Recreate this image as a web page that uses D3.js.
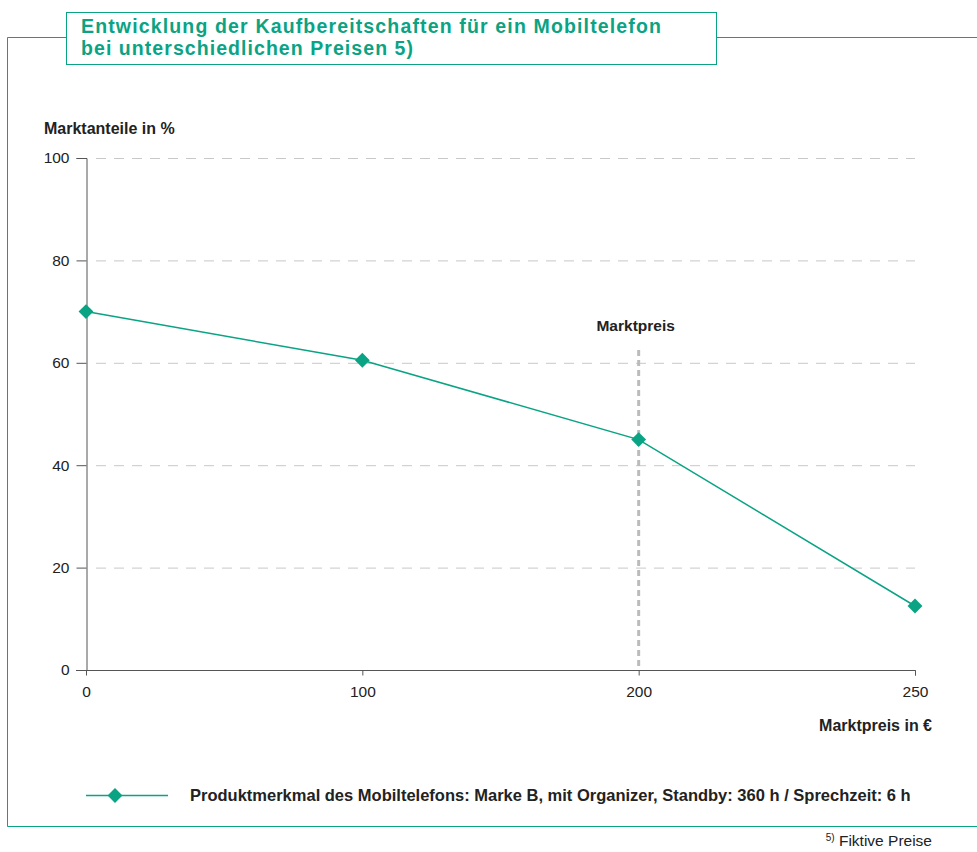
<!DOCTYPE html>
<html>
<head>
<meta charset="utf-8">
<script src="https://cdn.jsdelivr.net/npm/d3@7"></script>
<style>
  body { margin: 0; background: #fff; }
  svg text { font-family: "Liberation Sans", Arial, sans-serif; fill: #222; }
</style>
</head>
<body>
<script>
var prices = ["0", "100", "200", "250"];
var shares = [70, 60.5, 45, 12.5];
var yTicks = [0, 20, 40, 60, 80, 100];
var marketPrice = "200";
var teal = "#0aa384";

var w = 977, h = 852;
var svg = d3.select("body").append("svg")
  .attr("width", w)
  .attr("height", h);

// outer frame (open right)
svg.append("path")
  .attr("d", "M66,37.5 H7.5 V826.5 H977 M716,37.5 H977")
  .attr("fill", "none")
  .attr("stroke", teal)
  .attr("stroke-width", 1);

// title box
svg.append("rect")
  .attr("x", 66.5).attr("y", 12.5)
  .attr("width", 650).attr("height", 52)
  .attr("fill", "#fff")
  .attr("stroke", teal);

svg.append("text")
  .attr("x", 81).attr("y", 33)
  .attr("textLength", 580)
  .style("font-size", "19.5px").style("font-weight", "bold").style("fill", teal)
  .text("Entwicklung der Kaufbereitschaften für ein Mobiltelefon");
svg.append("text")
  .attr("x", 81).attr("y", 55)
  .attr("textLength", 332)
  .style("font-size", "19.5px").style("font-weight", "bold").style("fill", teal)
  .text("bei unterschiedlichen Preisen 5)");

var x = d3.scalePoint().domain(prices).range([86, 915]);
var y = d3.scaleLinear().domain([0, 100]).range([670, 158]);

// gridlines
svg.append("g").selectAll("line")
  .data(yTicks.filter(function(d) { return d > 0; }))
  .enter().append("line")
  .attr("x1", 96).attr("x2", 915)
  .attr("y1", function(d) { return y(d) + 0.5; })
  .attr("y2", function(d) { return y(d) + 0.5; })
  .attr("stroke", "#c8c8c8")
  .attr("stroke-dasharray", "10,8");

// Marktpreis line
svg.append("line")
  .attr("x1", x(marketPrice)).attr("x2", x(marketPrice))
  .attr("y1", 350).attr("y2", 670)
  .attr("stroke", "#bbbbbb")
  .attr("stroke-width", 3)
  .attr("stroke-dasharray", "6,4");
svg.append("text")
  .attr("x", x(marketPrice) - 3).attr("y", 331)
  .attr("text-anchor", "middle")
  .style("font-size", "15.5px").style("font-weight", "bold")
  .text("Marktpreis");

// y axis
var yAxis = d3.axisLeft(y).tickValues(yTicks).tickSize(10).tickPadding(7);
var gy = svg.append("g")
  .attr("transform", "translate(86.5,0)")
  .call(yAxis);
gy.select(".domain").attr("stroke", "#555");
gy.selectAll(".tick line").attr("stroke", "#555");
gy.selectAll("text").style("font-size", "15.5px").style("fill", "#222");

// x axis
var xAxis = d3.axisBottom(x).tickSize(5).tickPadding(10);
var gx = svg.append("g")
  .attr("transform", "translate(0,670.5)")
  .call(xAxis);
gx.select(".domain").attr("stroke", "#555").attr("d", "M76,0H915.5V5");
gx.selectAll(".tick line").attr("stroke", "#555");
gx.selectAll("text").style("font-size", "15.5px").style("fill", "#222");

// axis titles
svg.append("text")
  .attr("x", 44).attr("y", 134)
  .style("font-size", "16px").style("font-weight", "bold")
  .text("Marktanteile in %");
svg.append("text")
  .attr("x", 932).attr("y", 731)
  .attr("text-anchor", "end")
  .style("font-size", "16px").style("font-weight", "bold")
  .text("Marktpreis in €");

// series line
var line = d3.line()
  .x(function(d, i) { return x(prices[i]); })
  .y(function(d) { return y(d); });
svg.append("path")
  .datum(shares)
  .attr("d", line)
  .attr("fill", "none")
  .attr("stroke", teal)
  .attr("stroke-width", 1.5);

var diamond = d3.symbol().type(d3.symbolDiamond2).size(140);
svg.append("g").selectAll("path")
  .data(shares)
  .enter().append("path")
  .attr("d", diamond)
  .attr("transform", function(d, i) { return "translate(" + x(prices[i]) + "," + y(d) + ")"; })
  .attr("fill", teal);

// legend
svg.append("line")
  .attr("x1", 86).attr("x2", 168)
  .attr("y1", 795.5).attr("y2", 795.5)
  .attr("stroke", teal).attr("stroke-width", 1.5);
svg.append("path")
  .attr("d", diamond)
  .attr("transform", "translate(115,795.5)")
  .attr("fill", teal);
svg.append("text")
  .attr("x", 190).attr("y", 801)
  .style("font-size", "16.5px").style("font-weight", "bold")
  .text("Produktmerkmal des Mobiltelefons: Marke B, mit Organizer, Standby: 360 h / Sprechzeit: 6 h");

// footnote
var fn = svg.append("text")
  .attr("x", 932).attr("y", 846)
  .attr("text-anchor", "end")
  .style("font-size", "15.5px");
fn.append("tspan").attr("dy", -5).style("font-size", "10px").text("5)");
fn.append("tspan").attr("dy", 5).text(" Fiktive Preise");
</script>
</body>
</html>
